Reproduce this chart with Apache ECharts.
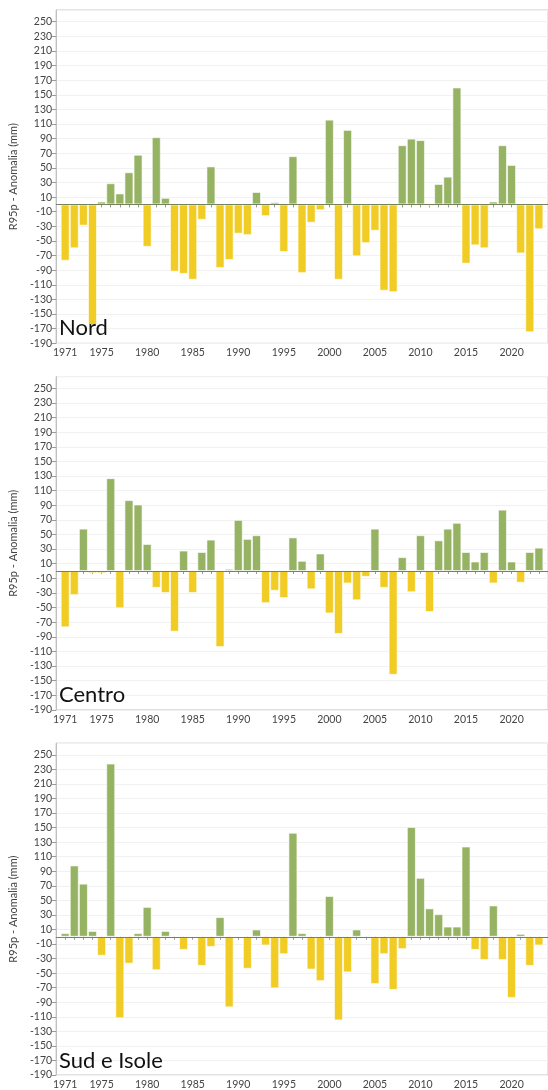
<!DOCTYPE html>
<html>
<head>
<meta charset="utf-8">
<script src="https://cdn.jsdelivr.net/npm/echarts@6/dist/echarts.min.js"></script>
<style>
  html, body { margin: 0; padding: 0; background: #fff; }
  #chart { width: 548px; height: 1090px; }
</style>
</head>
<body>
<div id="chart"></div>
<script>
// R95p precipitation anomaly (mm) by year, three Italian macro-regions
const years = [1971, 1972, 1973, 1974, 1975, 1976, 1977, 1978, 1979, 1980,
  1981, 1982, 1983, 1984, 1985, 1986, 1987, 1988, 1989, 1990,
  1991, 1992, 1993, 1994, 1995, 1996, 1997, 1998, 1999, 2000,
  2001, 2002, 2003, 2004, 2005, 2006, 2007, 2008, 2009, 2010,
  2011, 2012, 2013, 2014, 2015, 2016, 2017, 2018, 2019, 2020,
  2021, 2022, 2023];

const nord = [-77, -60, -29, -165, 4, 29, 15, 44, 68, -58,
  92, 9, -92, -95, -103, -21, 52, -87, -76, -40,
  -42, 17, -16, 3, -65, 66, -94, -25, -8, 116,
  -103, 102, -71, -53, -36, -118, -120, 81, 90, 88,
  -2, 28, 38, 160, -81, -56, -60, 4, 81, 54,
  -67, -175, -34];

const centro = [-77, -33, 58, -3, -3, 127, -51, 97, 91, 37,
  -23, -30, -83, 28, -30, 26, 43, -104, 3, 70,
  44, 49, -44, -27, -37, 46, 14, -25, 24, -58,
  -86, -17, -40, -8, 58, -23, -142, 19, -29, 49,
  -56, 42, 58, 66, 26, 13, 26, -17, 84, 13,
  -16, 26, 32];

const sud = [5, 98, 73, 8, -26, 238, -112, -37, 5, 41,
  -46, 8, -2, -18, 0, -40, -14, 27, -97, 0,
  -44, 10, -12, -71, -24, 143, 5, -45, -61, 56,
  -115, -49, 10, -2, -65, -24, -73, -17, 151, 81,
  39, 31, 14, 14, 124, -18, -32, 43, -32, -84,
  4, -40, -12];

const regionNames = ['Nord', 'Centro', 'Sud e Isole'];
const regionValues = [nord, centro, sud];
const xTickLabels = [1971, 1975, 1980, 1985, 1990, 1995, 2000, 2005, 2010, 2015, 2020];

const GREEN = '#96b263';
const YELLOW = '#f0cc24';
const FONT = 'Lato';
const panelTop = 10;
const panelStep = 366.6;
const panelHeight = 333.3;

const chart = echarts.init(document.getElementById('chart'), null, { renderer: 'canvas' });

const grid = [], xAxis = [], yAxis = [], series = [], title = [];

regionNames.forEach((name, i) => {
  grid.push({
    left: 50, top: panelTop + i * panelStep, width: 502, height: panelHeight,
    show: true, borderColor: '#c9c9c9', borderWidth: 1, backgroundColor: 'transparent'
  });
  xAxis.push({
    gridIndex: i, type: 'value', min: 1970, max: 2024, interval: 1,
    axisLine: { show: true, lineStyle: { color: '#c0c0c0' } },
    axisTick: { show: true, length: 3, lineStyle: { color: '#999' } },
    splitLine: { show: false },
    axisLabel: {
      fontFamily: FONT, fontSize: 10.5, color: '#444', margin: 4,
      showMinLabel: false, showMaxLabel: false,
      formatter: v => (xTickLabels.indexOf(v) >= 0 ? String(v) : '')
    }
  });
  yAxis.push({
    gridIndex: i, type: 'value', min: -190, max: 266, interval: 20,
    name: 'R95p - Anomalia (mm)', nameLocation: 'middle', nameGap: 34,
    nameTextStyle: { fontFamily: FONT, fontSize: 11, color: '#444' },
    axisLine: { show: true, lineStyle: { color: '#c0c0c0' } },
    axisTick: { show: true, length: 4, lineStyle: { color: '#999' } },
    splitLine: { show: true, lineStyle: { color: '#f1f1f1' } },
    axisLabel: { fontFamily: FONT, fontSize: 10.5, color: '#444', margin: 4, showMaxLabel: false }
  });
  series.push({
    type: 'bar', xAxisIndex: i, yAxisIndex: i, barWidth: 9,
    data: years.map((y, k) => [y, regionValues[i][k]]),
    itemStyle: {
      color: p => (p.value[1] >= 0 ? GREEN : YELLOW),
      borderColor: 'rgba(255,255,255,0.6)', borderWidth: 1
    },
    markLine: {
      silent: true, symbol: 'none', label: { show: false },
      lineStyle: { color: '#76825c', width: 1, type: 'solid' },
      data: [{ yAxis: 0 }]
    },
    animation: false
  });
  title.push({
    text: name, left: 59, top: 317 + i * panelStep, padding: 0,
    textStyle: { fontFamily: FONT, fontSize: 22, fontWeight: 'normal', color: '#111' }
  });
});

chart.setOption({ animation: false, title, grid, xAxis, yAxis, series });
</script>
</body>
</html>
